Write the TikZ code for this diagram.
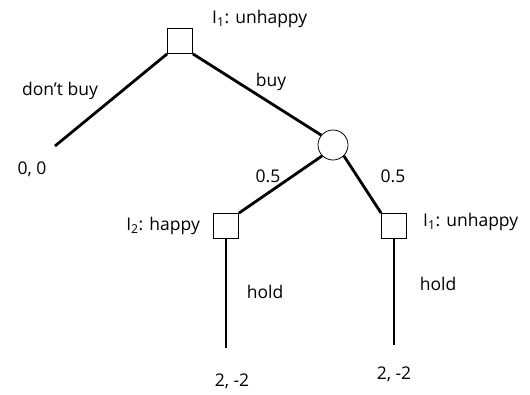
\documentclass[tikz,border=0pt]{standalone}
\usepackage{fontspec}
\setmainfont{Open Sans}
\begin{document}
\begin{tikzpicture}[x=1pt,y=-1pt,
  decision/.style={draw,line width=0.8pt,minimum size=25pt,inner sep=0pt},
  chance/.style={draw,circle,line width=0.8pt,minimum size=30pt,inner sep=0pt},
  branch/.style={line width=2.8pt},
  lbl/.style={font=\fontsize{17.5}{20}\selectfont,inner sep=0pt}]
\useasboundingbox (0,0) rectangle (530,394);
% decision and chance nodes
\node[decision] (root) at (180,41) {};
\node[chance] (nature) at (333,145) {};
\node[decision] (happy) at (226,226) {};
\node[decision] (unhappy) at (394,226) {};
% terminal points
\coordinate (leafA) at (55,146);
\coordinate (leafB) at (226,348);
\coordinate (leafC) at (394,345);
% branches
\draw[branch] (root.south west) -- (leafA);
\draw[branch] (root.south east) -- (nature.140);
\draw[branch] (nature.225) -- (happy.north east);
\draw[branch] (nature.315) -- (unhappy.north west);
\draw[branch] (happy.south) -- (leafB);
\draw[branch] (unhappy.south) -- (leafC);
% labels
\node[lbl,anchor=west] (t1) at (212,19) {I\textsubscript{1}: unhappy};
\node[lbl] (t2) at (60,91) {don't buy};
\node[lbl] (t3) at (271,82) {buy};
\node[lbl] (t4) at (32,169) {0, 0};
\node[lbl] (t5) at (268,176) {0.5};
\node[lbl] (t6) at (393,176) {0.5};
\node[lbl,anchor=east] (t7) at (200,226) {I\textsubscript{2}: happy};
\node[lbl,anchor=west] (t8) at (423,222) {I\textsubscript{1}: unhappy};
\node[lbl] (t9) at (265,292) {hold};
\node[lbl] (t10) at (438,284) {hold};
\node[lbl] (t11) at (232,381) {2, -2};
\node[lbl] (t12) at (394,374) {2, -2};
\end{tikzpicture}
\end{document}
